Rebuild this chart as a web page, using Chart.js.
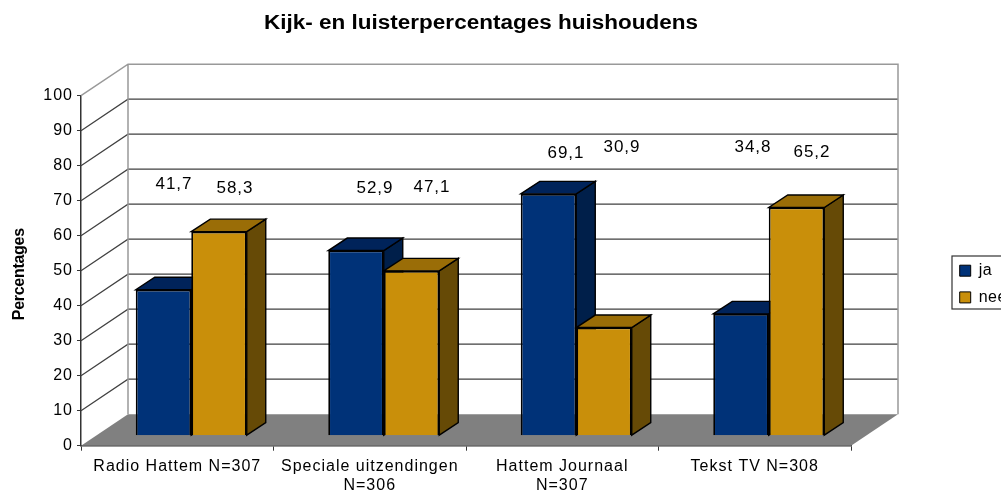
<!DOCTYPE html>
<html><head><meta charset="utf-8">
<style>html,body{margin:0;padding:0;background:#fff;overflow:hidden}canvas{display:block}</style>
<script src="https://cdn.jsdelivr.net/npm/chart.js@4"></script></head>
<body><div style="width:1001px;height:491px"><canvas id="c" width="1001" height="491"></canvas></div>
<script>
const categories = [["Radio Hattem N=307"], ["Speciale uitzendingen", "N=306"], ["Hattem Journaal", "N=307"], ["Tekst TV N=308"]];
const ja = [41.7, 52.9, 69.1, 34.8];
const nee = [58.3, 47.1, 30.9, 65.2];
const jaLabels = ["41,7", "52,9", "69,1", "34,8"];
const neeLabels = ["58,3", "47,1", "30,9", "65,2"];
const yTicks = [0,10,20,30,40,50,60,70,80,90,100];

const FONT = "'Liberation Sans', Arial, sans-serif";
const DEPTH = {x: 47, y: 31.5};     // wall depth
const BAR_FRONT = {x: 14, y: 10};   // bars stand this far back on the floor
const BAR_DEPTH = {x: 19, y: 12.5};
const faces = [
  {side: '#001f4a', top: '#00235a'},
  {side: '#664a06', top: '#9a6d07'}
];
// hand-placed value labels of the reference: x offset from bar centre, pixel row
const labelDx = [[10.5, 19, 17.5, 12], [16, 20.5, 18, 15.5]];
const labelRow = [[184, 188, 153, 147], [188, 187, 147, 152]];

function poly(ctx, pts, fill, stroke, lw){
  ctx.beginPath();
  pts.forEach((p,i)=> i?ctx.lineTo(p[0],p[1]):ctx.moveTo(p[0],p[1]));
  ctx.closePath();
  if(fill){ctx.fillStyle=fill;ctx.fill();}
  if(stroke){ctx.strokeStyle=stroke;ctx.lineWidth=lw||1;ctx.stroke();}
}

const scene = {
  id: 'scene',
  beforeLayout(chart){
    const lg = chart.legend;
    chart.ctx.letterSpacing = '1px';
    if(lg && !lg._wrapped){
      const f = lg.fit.bind(lg);
      lg.fit = function(){ f(); this.width = 150; };
      lg._wrapped = true;
      const ld = lg.draw.bind(lg);
      lg.draw = function(){
        const ctx = chart.ctx;
        ctx.save();
        ctx.letterSpacing = '0.5px';
        ld();
        ctx.restore();
      };
      const tb = chart.titleBlock, td = tb.draw.bind(tb);
      tb.draw = function(){
        const ctx = chart.ctx;
        ctx.save();
        ctx.letterSpacing = '0px';
        ctx.translate(481,0); ctx.scale(1.125,1); ctx.translate(-481,0);
        td(ctx);
        ctx.restore();
      };
      const ys = chart.scales.y, yt = ys.drawTitle.bind(ys);
      ys.drawTitle = function(){
        const ctx = chart.ctx;
        ctx.save();
        ctx.letterSpacing = '-0.3px';
        ctx.translate(1,3.5);
        yt();
        ctx.restore();
      };
    }
  },
  afterLayout(chart){
    const lg = chart.legend;
    lg.left = 949; lg.right = 1110; lg.top = 252; lg.bottom = 420; lg.width = 161; lg.height = 168;
    chart.titleBlock.left = 0; chart.titleBlock.right = 962;
  },
  beforeDatasetsDraw(chart){
    const {ctx, chartArea:a, scales:{x,y}} = chart;
    const b = y.getPixelForValue(0), t = y.getPixelForValue(100);
    const dx = DEPTH.x, dy = DEPTH.y;
    // floor
    poly(ctx, [[a.left,b],[a.right,b],[a.right+dx,b-dy],[a.left+dx,b-dy]], '#808080');
    // grid on side and back walls
    ctx.lineWidth = 1.2; ctx.strokeStyle = '#404040';
    yTicks.forEach(v=>{
      if(v===0||v===100) return;
      const p = y.getPixelForValue(v);
      ctx.beginPath();
      ctx.moveTo(a.left,p); ctx.lineTo(a.left+dx,p-dy); ctx.lineTo(a.right+dx,p-dy);
      ctx.stroke();
    });
    // wall outlines
    ctx.strokeStyle = '#999'; ctx.lineWidth = 1.5;
    ctx.beginPath();
    ctx.moveTo(a.left,t); ctx.lineTo(a.left+dx,t-dy); ctx.lineTo(a.right+dx,t-dy); ctx.lineTo(a.right+dx,b-dy);
    ctx.moveTo(a.left+dx,t-dy); ctx.lineTo(a.left+dx,b-dy);
    ctx.stroke();
    // 3D faces of the bars, first series first
    const fx = BAR_FRONT.x, fy = BAR_FRONT.y, ex = BAR_DEPTH.x, ey = BAR_DEPTH.y;
    [0,1].forEach(d=>{
      chart.getDatasetMeta(d).data.forEach(bar=>{
        const L = bar.x - bar.width/2 + fx, R = bar.x + bar.width/2 + fx;
        const T = bar.y - fy, B = bar.base - fy;
        poly(ctx, [[R,T],[R+ex,T-ey],[R+ex,B-ey],[R,B]], faces[d].side, '#000', 1.4);
        poly(ctx, [[L,T],[R,T],[R+ex,T-ey],[L+ex,T-ey]], faces[d].top, '#000', 1.4);
      });
    });
    ctx.save();
    ctx.translate(fx, -fy);
  },
  afterDatasetsDraw(chart){
    const {ctx} = chart;
    ctx.restore();
    ctx.save();
    ctx.font = "17px " + FONT; ctx.fillStyle = '#000';
    ctx.textAlign = 'center'; ctx.textBaseline = 'middle';
    [jaLabels, neeLabels].forEach((labs,d)=>{
      chart.getDatasetMeta(d).data.forEach((bar,i)=>{
        ctx.fillText(labs[i], bar.x + BAR_FRONT.x + labelDx[d][i], labelRow[d][i]);
      });
    });
    ctx.restore();
  },
  afterDraw(chart){
    const {ctx} = chart;
    ctx.save();
    ctx.strokeStyle = '#333'; ctx.lineWidth = 1.2;
    ctx.strokeRect(952, 256, 100, 53);
    ctx.restore();
  }
};

new Chart(document.getElementById('c'), {
  type: 'bar',
  data: {
    labels: categories,
    datasets: [
      {label: 'ja', data: ja, backgroundColor: '#003278', borderColor: '#000', borderWidth: 1.8},
      {label: 'nee', data: nee, backgroundColor: '#c98f0a', borderColor: '#000', borderWidth: 1.8}
    ]
  },
  plugins: [scene],
  options: {
    responsive: false, animation: false,
    layout: {padding: 0},
    datasets: {bar: {categoryPercentage: 0.5766, barPercentage: 1}},
    scales: {
      x: {
        offset: true,
        afterFit(s){ s.height = 45.3; },
        grid: {drawOnChartArea: false, tickLength: 5, color: '#333', offset: true},
        border: {color: '#333', width: 1.5},
        ticks: {font: {family: FONT, size: 16}, color: '#000', maxRotation: 0, padding: 6, autoSkip: false}
      },
      y: {
        min: 0, max: 100,
        afterFit(s){ s.width = 81; },
        grid: {drawOnChartArea: false, tickLength: 4, color: '#333'},
        border: {color: '#333', width: 1.5},
        ticks: {stepSize: 10, font: {family: FONT, size: 16}, color: '#000', padding: 4},
        title: {display: true, text: 'Percentages', font: {family: FONT, size: 16, weight: 'bold'}, color: '#000', padding: {top: 9, bottom: 0}}
      }
    },
    plugins: {
      title: {display: true, text: 'Kijk- en luisterpercentages huishoudens', color: '#000',
        font: {family: FONT, size: 20, weight: 'bold'}, padding: {top: 11, bottom: 60.7}},
      legend: {position: 'right', align: 'start', labels: {font: {family: FONT, size: 16}, color: '#000', boxWidth: 11, boxHeight: 11, padding: 10.7,
        generateLabels(chart){ return Chart.defaults.plugins.legend.labels.generateLabels(chart).map(l=>{l.strokeStyle='#000';l.lineWidth=1;return l;}); }}},
      tooltip: {enabled: false}
    }
  }
});
</script></body></html>
